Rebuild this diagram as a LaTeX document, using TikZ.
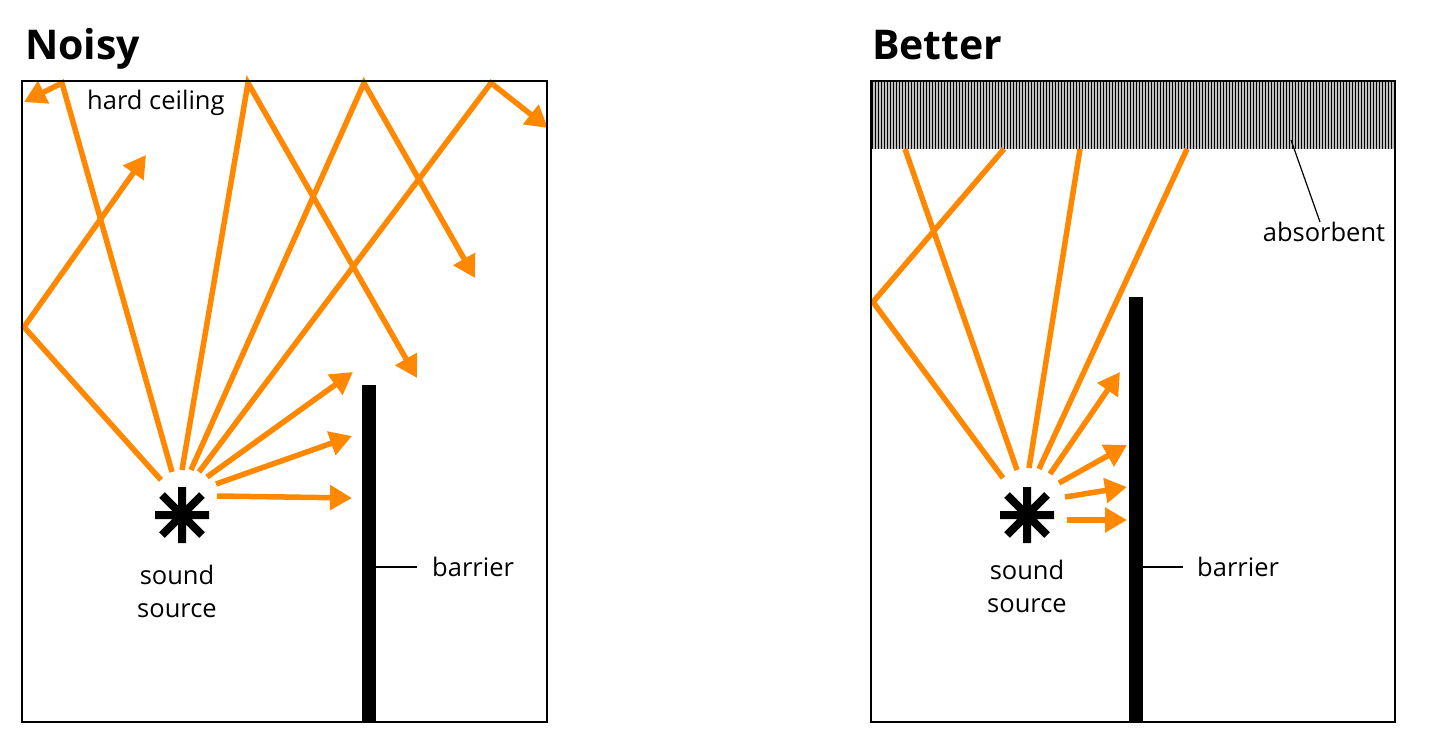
\documentclass[tikz,border=0pt]{standalone}
\usepackage{fontspec}
\setmainfont{Open Sans}
\usetikzlibrary{arrows.meta,calc}
\definecolor{raycol}{RGB}{255,136,0}
\begin{document}
\begin{tikzpicture}[x=1pt,y=-1pt,
  ray/.style={draw=raycol, line width=5.5pt},
  rayarr/.style={ray, -{Triangle[length=22pt,width=24pt]}},
  frame/.style={draw=black, line width=1.4pt},
  lbl/.style={font=\fontsize{25.5}{33}\selectfont, inner sep=0pt},
  ttl/.style={font=\fontsize{41}{48}\selectfont\bfseries, inner sep=0pt, anchor=base west},
  barrier/.style={fill=black, inner sep=0pt, minimum width=14pt, anchor=south west},
  leader/.style={draw=black, line width=1.2pt},
  star/.pic={\draw[line width=8pt] (0,-28)--(0,28) (-27,0)--(27,0) (-20,-20)--(20,20) (-20,20)--(20,-20);}
]
\useasboundingbox (0,0) rectangle (1429,754);

% ---------------- Noisy ----------------
\node[ttl] (tN) at (25,60) {Noisy};
\coordinate (fL1) at (22,81);
\coordinate (fL2) at (547,722);
\node[lbl, anchor=west] (hc) at (87,103) {hard ceiling};

\coordinate (srcL) at (182,515);
\pic at (srcL) {star};
\node[lbl, align=center, anchor=north] (ssL) at (177,565) {sound\\source};

\node[barrier, minimum height=337pt] (barL) at (362,722) {};
\coordinate (blL) at (417,567);
\draw[leader] (barL.east |- blL) -- (blL);
\node[lbl, anchor=west] (btL) at (432,567) {barrier};

% rays
\coordinate (a1) at (217,496); \coordinate (e1) at (352,498);
\coordinate (a2) at (216,484); \coordinate (e2) at (352,436);
\coordinate (a3) at (207,477); \coordinate (e3) at (353,372);
\coordinate (a4) at (199,472); \coordinate (r4) at (491,83); \coordinate (e4) at (548,128);
\coordinate (a5) at (191,470); \coordinate (r5) at (364,83); \coordinate (e5) at (475,278);
\coordinate (a6) at (182,470); \coordinate (r6) at (248,83); \coordinate (e6) at (417,378);
\coordinate (a7) at (172,472); \coordinate (r7) at (62,83); \coordinate (e7) at (24,102);
\coordinate (a8) at (161,480); \coordinate (r8) at (24,327); \coordinate (e8) at (146,155);
\draw[rayarr] (a1) -- (e1);
\draw[rayarr] (a2) -- (e2);
\draw[rayarr] (a3) -- (e3);
\draw[rayarr] (a4) -- (r4) -- (e4);
\draw[rayarr] (a5) -- (r5) -- (e5);
\draw[rayarr] (a6) -- (r6) -- (e6);
\draw[rayarr] (a7) -- (r7) -- (e7);
\draw[rayarr] (a8) -- (r8) -- (e8);
\draw[frame] (fL1) rectangle (fL2);

% ---------------- Better ----------------
\node[ttl] (tB) at (872,60) {Better};
\coordinate (fR1) at (871,81);
\coordinate (fR2) at (1395,722);
\fill[gray!50] (871,81) rectangle (1395,149);
\foreach \x in {872.5,875.5,...,1394} \draw[line width=1.5pt] (\x,81) -- (\x,149);
\coordinate (abA) at (1291,140);
\node[lbl, anchor=north] (abT) at (1324,222) {absorbent};
\draw[leader] (abA) -- (1320,222);

\coordinate (srcR) at (1027,515);
\pic at (srcR) {star};
\node[lbl, align=center, anchor=north] (ssR) at (1027,560) {sound\\source};

\node[barrier, minimum height=425pt] (barR) at (1129,722) {};
\coordinate (blR) at (1183,567);
\draw[leader] (barR.east |- blR) -- (blR);
\node[lbl, anchor=west] (btR) at (1197,567) {barrier};

\coordinate (b1) at (1067,520); \coordinate (g1) at (1127,520);
\coordinate (b2) at (1065,497); \coordinate (g2) at (1127,487);
\coordinate (b3) at (1059,483); \coordinate (g3) at (1127,445);
\coordinate (b4) at (1050,474); \coordinate (g4) at (1120,372);
\coordinate (b5) at (1039,469); \coordinate (g5) at (1187,149);
\coordinate (b6) at (1029,468); \coordinate (g6) at (1080,149);
\coordinate (b7) at (1017,470); \coordinate (g7) at (905,149);
\coordinate (b8) at (1003,478); \coordinate (q8) at (873,302); \coordinate (g8) at (1004,149);
\draw[rayarr] (b1) -- (g1);
\draw[rayarr] (b2) -- (g2);
\draw[rayarr] (b3) -- (g3);
\draw[rayarr] (b4) -- (g4);
\draw[ray] (b5) -- (g5);
\draw[ray] (b6) -- (g6);
\draw[ray] (b7) -- (g7);
\draw[ray] (b8) -- (q8) -- (g8);
\draw[frame] (fR1) rectangle (fR2);
\end{tikzpicture}
\end{document}
